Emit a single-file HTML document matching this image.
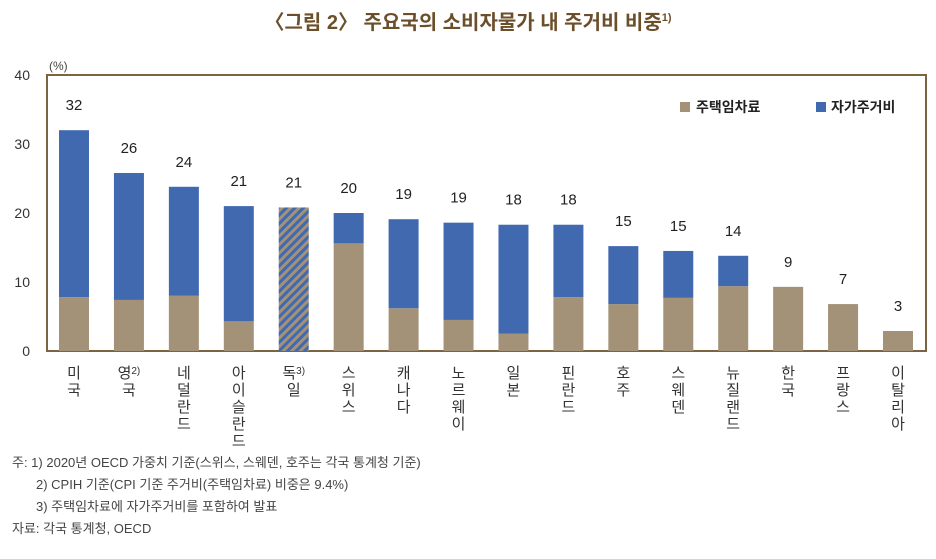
<!DOCTYPE html>
<html><head><meta charset="utf-8"><style>
body{margin:0;background:#fff;width:936px;height:554px;overflow:hidden;font-family:"Liberation Sans","Noto Sans CJK KR",sans-serif;}
svg text{font-family:"Liberation Sans","Noto Sans CJK KR",sans-serif;}
</style></head><body>
<svg id="chart" width="936" height="554" viewBox="0 0 936 554">
<defs><pattern id="hatch" width="6" height="6" patternUnits="userSpaceOnUse" patternTransform="rotate(45)"><rect width="6" height="6" fill="#a39277"/><rect width="3" height="6" fill="#4169b0"/></pattern></defs>
<text x="468" y="29" text-anchor="middle" font-size="20" fill="#6b4e2a" font-weight="bold">〈그림 2〉 주요국의 소비자물가 내 주거비 비중<tspan font-size="11" dy="-8">1)</tspan></text>
<text x="49" y="70" font-size="12" fill="#444">(%)</text>
<g id="axis"></g><g id="bars"></g>
<g>
<rect x="680" y="102" width="10" height="10" fill="#a39277"/>
<text x="696" y="112" font-size="14" fill="#222" font-weight="bold">주택임차료</text>
<rect x="816" y="102" width="10" height="10" fill="#4169b0"/>
<text x="831" y="112" font-size="14" fill="#222" font-weight="bold">자가주거비</text>
</g>
<g font-size="13" fill="#444">
<text x="12" y="467">주: 1) 2020년 OECD 가중치 기준(스위스, 스웨덴, 호주는 각국 통계청 기준)</text>
<text x="36" y="489">2) CPIH 기준(CPI 기준 주거비(주택임차료) 비중은 9.4%)</text>
<text x="36" y="511">3) 주택임차료에 자가주거비를 포함하여 발표</text>
<text x="12" y="533">자료: 각국 통계청, OECD</text>
</g>
</svg>
<script>
const categories=["미국","영국","네덜란드","아이슬란드","독일","스위스","캐나다","노르웨이","일본","핀란드","호주","스웨덴","뉴질랜드","한국","프랑스","이탈리아"];
const notes=["","2)","","","3)","","","","","","","","","","",""];
const rentValues=[7.8,7.4,8.0,4.3,0,15.6,6.2,4.5,2.5,7.8,6.8,7.7,9.4,9.3,6.8,2.9];
const ownerValues=[24.2,18.4,15.8,16.7,0,4.4,12.9,14.1,15.8,10.5,8.4,6.8,4.4,0,0,0];
const combinedValues=[0,0,0,0,20.8,0,0,0,0,0,0,0,0,0,0,0];
const totalLabels=["32","26","24","21","21","20","19","19","18","18","15","15","14","9","7","3"];
const yTicks=[0,10,20,30,40];
</script>
<script>
const NS="http://www.w3.org/2000/svg";
const L=47,R=926,T=75,B=351,BW=30;
function y(v){return B-(v/40)*(B-T);}
function x(i){return 74+i*((898-74)/(categories.length-1));}
function mk(tag,attrs,parent){const e=document.createElementNS(NS,tag);for(const k in attrs)e.setAttribute(k,attrs[k]);parent.appendChild(e);return e;}
const ax=document.getElementById('axis'),bars=document.getElementById('bars');
yTicks.forEach(t=>{const e=mk('text',{x:30,y:y(t)+5,'text-anchor':'end','font-size':14,fill:'#333'},ax);e.textContent=t;

});
const fr=mk('rect',{x:L,y:T,width:R-L,height:B-T,fill:'none',stroke:'#7d6440','stroke-width':2},ax);


categories.forEach((c,i)=>{
 const cx=x(i);const g=mk('g',{},bars);
 
 
 if(combinedValues[i]>0){const r=mk('rect',{x:cx-BW/2,y:y(combinedValues[i]),width:BW,height:B-y(combinedValues[i]),fill:'url(#hatch)'},g);
  
  }
 if(rentValues[i]>0){const r=mk('rect',{x:cx-BW/2,y:y(rentValues[i]),width:BW,height:B-y(rentValues[i]),fill:'#a39277'},g);
  
  }
 if(ownerValues[i]>0){const top=rentValues[i]+ownerValues[i];const r=mk('rect',{x:cx-BW/2,y:y(top),width:BW,height:y(rentValues[i])-y(top),fill:'#4169b0'},g);
  
  }
 const tot=rentValues[i]+ownerValues[i]+combinedValues[i];
 const lab=mk('text',{x:cx,y:y(tot)-20,'text-anchor':'middle','font-size':15,fill:'#222'},g);lab.textContent=totalLabels[i];
 
 
 const xl=mk('text',{x:cx,y:378,'text-anchor':'middle','font-size':15,fill:'#333'},g);
 
 
 [...c].forEach((ch,k)=>{const ts=mk('tspan',{x:cx,y:378+k*17},xl);ts.textContent=ch;
  if(k===0&&notes[i]){const s=mk('tspan',{'font-size':10,dy:-4},xl);s.textContent=notes[i];}});
});
</script>
</body></html>
